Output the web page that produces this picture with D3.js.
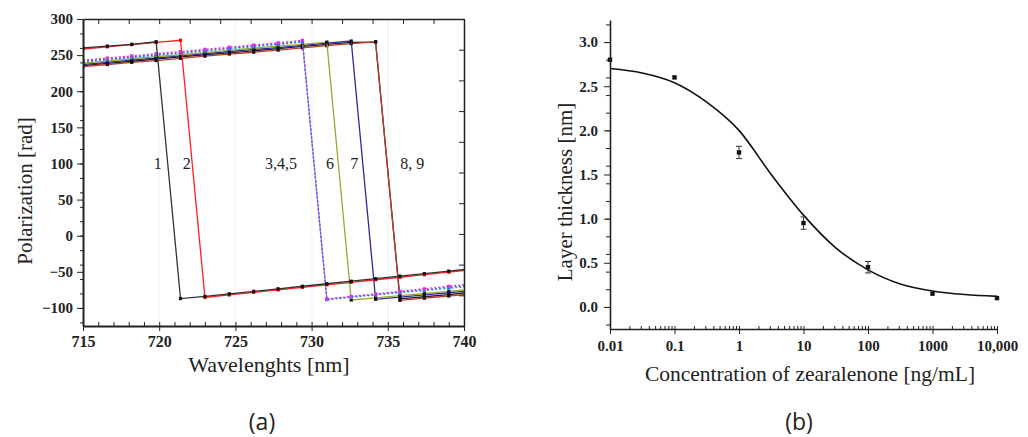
<!DOCTYPE html>
<html>
<head>
<meta charset="utf-8">
<script src="https://cdn.jsdelivr.net/npm/d3@7"></script>
<style>
  body { margin: 0; background: #fff; }
  svg { display: block; }
  text { font-family: "Liberation Serif", "DejaVu Serif", serif; fill: #222; }
  .tick text { font-weight: bold; font-size: 15px; fill: #222; }
  .xa .tick text { font-size: 16px; }
  .domain, .tick line { stroke: #222; }
</style>
</head>
<body>
<div id="chart"></div>
<script>
// ---- panel (a) data ----
var wavelengths = [715, 716.6, 718.2, 719.8, 721.4, 723.0, 724.6, 726.2, 727.8, 729.4, 731.0, 732.6, 734.2, 735.8, 737.4, 739.0, 740.6];
var curve1 = [260, 262.5, 265, 268.5, -87, -84, -80.5, -77, -73.5, -70, -66.5, -63, -59.5, -56, -52.5, -49, -45.5];
var curve2 = [258.5, 261.5, 264.5, 267.5, 270.5, -85.5, -82, -78.5, -75, -71.5, -68, -64.5, -61, -57.5, -54, -50.5, -47];
var curve3 = [243, 246, 249, 252, 255, 258, 261, 264, 267, 270.5, -87.5, -84, -80.5, -77, -73.5, -70, -66.5];
var curve4 = [241.5, 244.5, 247.5, 250.5, 253.5, 256.5, 259.5, 262.5, 265.5, 269, -88, -84.5, -81.5, -78, -75, -71.5, -68.5];
var curve5 = [240.5, 243.5, 246.5, 249.5, 252.5, 255.5, 258.5, 261.5, 264.5, 268, -88.5, -85.5, -82, -79, -76, -73, -70];
var curve6 = [239, 242, 245, 248, 250.5, 253.5, 256.5, 259.5, 262.5, 265, 268, -89, -86, -83, -80, -77, -74];
var curve7 = [237, 240, 243, 246, 249, 252, 255, 258, 260.5, 263.5, 266.5, 269.5, -88, -85, -82, -79, -76];
var curve8 = [234, 237, 240, 242.5, 245.5, 248.5, 251.5, 254, 257, 260, 263, 266, 268.5, -89.5, -86.5, -83.5, -80.5];
var curve9 = [235.5, 238.5, 241.5, 244.5, 247.5, 250.5, 253, 256, 259, 262, 265, 267.5, 268, -87.5, -84.5, -81.5, -78];

var curveNames = ["1", "2", "3,4,5", "6", "7", "8, 9"];
var curveLabelX = [719.9, 721.8, 728.0, 731.2, 732.8, 736.6];
var xTicksA = [715, 720, 725, 730, 735, 740];
var yTicksA = [-100, -50, 0, 50, 100, 150, 200, 250, 300];

// ---- panel (b) data ----
var concentrations = [0.01, 0.1, 1, 10, 100, 1000, 10000];
var thickness = [2.8, 2.6, 1.75, 0.95, 0.45, 0.15, 0.1];
var thicknessErr = [0, 0, 0.07, 0.07, 0.065, 0, 0];
var fitX = [0.01, 0.0316, 0.1, 0.316, 1, 3.16, 10, 31.6, 100, 316, 1000, 3162, 10000];
var fitY = [2.70, 2.65, 2.54, 2.32, 2.0, 1.50, 1.04, 0.67, 0.42, 0.26, 0.18, 0.14, 0.12];
var xTicksB = [0.01, 0.1, 1, 10, 100, 1000, 10000];
var xTickLabelsB = ["0.01", "0.1", "1", "10", "100", "1000", "10,000"];
var yTicksB = [0, 0.5, 1, 1.5, 2, 2.5, 3];

var width = 1028, height = 437;

var svg = d3.select("#chart").append("svg")
  .attr("width", width)
  .attr("height", height);

/* ===== panel (a) ===== */
var xA = d3.scaleLinear().domain([715, 740]).range([83, 464]);
var yA = d3.scaleLinear().domain([-125, 300]).range([326, 19]);

var gA = svg.append("g");

// faint background grid
gA.selectAll(".vgrid").data(xTicksA.slice(1, -1)).enter().append("line")
  .attr("x1", d => xA(d)).attr("x2", d => xA(d))
  .attr("y1", 19).attr("y2", 326)
  .attr("stroke", "#f7f7f7").attr("stroke-width", 2);

gA.append("clipPath").attr("id", "clipA")
  .append("rect").attr("x", 83).attr("y", 19).attr("width", 381).attr("height", 307);

var series = [
  { values: curve9, color: "#222222", dash: null, marker: "#111" },
  { values: curve8, color: "#c0392b", dash: null, marker: "#111" },
  { values: curve7, color: "#2b2b9c", dash: null, marker: "#111" },
  { values: curve6, color: "#a3a332", dash: null, marker: "#111" },
  { values: curve5, color: "#33bcd6", dash: "2,2", marker: "#33bcd6" },
  { values: curve4, color: "#3a55ff", dash: "2,2", marker: "#3a55ff" },
  { values: curve3, color: "#e033e0", dash: "2,2", marker: "#e033e0" },
  { values: curve2, color: "#ff2020", dash: null, marker: "#d01010" },
  { values: curve1, color: "#333333", dash: null, marker: "#111" }
];

var lineA = d3.line()
  .x(d => xA(d[0]))
  .y(d => yA(d[1]));

var plotA = gA.append("g").attr("clip-path", "url(#clipA)");

series.forEach(function (s) {
  var pts = wavelengths.map((w, i) => [w, s.values[i]]);
  plotA.append("path")
    .datum(pts)
    .attr("d", lineA)
    .attr("fill", "none")
    .attr("stroke", s.color)
    .attr("stroke-width", 1.3)
    .attr("stroke-dasharray", s.dash);
  plotA.selectAll(null)
    .data(pts)
    .enter()
    .append("rect")
    .attr("x", d => xA(d[0]) - 1.6)
    .attr("y", d => yA(d[1]) - 1.6)
    .attr("width", 3.2)
    .attr("height", 3.2)
    .attr("fill", s.marker);
});

gA.selectAll(".clabel").data(curveNames).enter().append("text")
  .attr("x", (d, i) => xA(curveLabelX[i]))
  .attr("y", yA(100))
  .attr("dy", "0.35em")
  .attr("text-anchor", "middle")
  .attr("font-size", "16px")
  .attr("fill", "#333")
  .text(d => d);

// axes
gA.append("g")
  .attr("class", "xa")
  .attr("transform", "translate(0,326)")
  .call(d3.axisBottom(xA).tickValues(xTicksA).tickSize(5).tickSizeOuter(0).tickPadding(5))
  .call(g => g.select(".domain").attr("stroke-width", 2));
gA.append("g")
  .attr("transform", "translate(0,326)")
  .call(d3.axisTop(xA).ticks(25).tickSize(4).tickSizeOuter(0).tickFormat(""))
  .call(g => g.select(".domain").remove());
gA.append("g")
  .attr("transform", "translate(83,0)")
  .call(d3.axisLeft(yA).tickValues(yTicksA).tickSize(6).tickSizeOuter(0).tickPadding(4)
    .tickFormat(d => d < 0 ? "\u2212" + Math.abs(d) : d))
  .call(g => g.select(".domain").attr("stroke-width", 2));
gA.append("g")
  .attr("transform", "translate(83,0)")
  .call(d3.axisLeft(yA).ticks(17).tickSize(3).tickSizeOuter(0).tickFormat(""))
  .call(g => g.select(".domain").remove());
gA.append("g")
  .attr("transform", "translate(0,19)")
  .call(d3.axisBottom(xA).ticks(10).tickSize(5).tickSizeOuter(0).tickFormat(""))
  .call(g => g.select(".domain").attr("stroke-width", 1.5));
gA.append("g")
  .attr("transform", "translate(464,0)")
  .call(d3.axisLeft(yA).tickValues(d3.range(11).map(i => -125 + 42.5 * i)).tickSize(5).tickSizeOuter(0).tickFormat(""))
  .call(g => g.select(".domain").attr("stroke-width", 1.5));

gA.append("text")
  .attr("x", 269).attr("y", 372)
  .attr("text-anchor", "middle")
  .attr("font-size", "22px")
  .text("Wavelenghts [nm]");
gA.append("text")
  .attr("transform", "translate(32,191) rotate(-90)")
  .attr("text-anchor", "middle")
  .attr("font-size", "21px")
  .text("Polarization [rad]");

/* ===== panel (b) ===== */
var xB = d3.scaleLog().domain([0.01, 10000]).range([610, 997]);
var yB = d3.scaleLinear().domain([-0.25, 3.25]).range([329, 20]);

var gB = svg.append("g");

gB.append("path")
  .datum(fitX.map((x, i) => [x, fitY[i]]))
  .attr("d", d3.line().x(d => xB(d[0])).y(d => yB(d[1])).curve(d3.curveMonotoneX))
  .attr("fill", "none")
  .attr("stroke", "#111")
  .attr("stroke-width", 1.6);

var pts = concentrations.map((c, i) => ({ c: c, v: thickness[i], e: thicknessErr[i] }));
var errs = gB.selectAll(".err").data(pts.filter(d => d.e > 0)).enter().append("g")
  .attr("stroke", "#333").attr("stroke-width", 1);
errs.append("line")
  .attr("x1", d => xB(d.c)).attr("x2", d => xB(d.c))
  .attr("y1", d => yB(d.v - d.e)).attr("y2", d => yB(d.v + d.e));
errs.append("line")
  .attr("x1", d => xB(d.c) - 3).attr("x2", d => xB(d.c) + 3)
  .attr("y1", d => yB(d.v + d.e)).attr("y2", d => yB(d.v + d.e));
errs.append("line")
  .attr("x1", d => xB(d.c) - 3).attr("x2", d => xB(d.c) + 3)
  .attr("y1", d => yB(d.v - d.e)).attr("y2", d => yB(d.v - d.e));

gB.selectAll(".pt").data(pts).enter().append("rect")
  .attr("x", d => xB(d.c) - 2.2)
  .attr("y", d => yB(d.v) - 2.2)
  .attr("width", 4.4)
  .attr("height", 4.4)
  .attr("fill", "#111");

gB.append("g")
  .attr("transform", "translate(0,329)")
  .call(d3.axisBottom(xB).tickValues(xTicksB).tickSize(5).tickSizeOuter(0).tickPadding(6)
    .tickFormat((d, i) => xTickLabelsB[i]))
  .call(g => g.select(".domain").attr("stroke-width", 1.6));
gB.append("g")
  .attr("transform", "translate(0,329)")
  .call(d3.axisTop(xB).tickValues(xB.ticks()).tickSize(3).tickSizeOuter(0).tickFormat(""))
  .call(g => g.select(".domain").remove());
gB.append("g")
  .attr("transform", "translate(610,0)")
  .call(d3.axisLeft(yB).tickValues(yTicksB).tickSize(6).tickSizeOuter(0).tickPadding(6)
    .tickFormat(d3.format(".1f")))
  .call(g => g.select(".domain").attr("stroke-width", 1.6));
gB.append("g")
  .attr("transform", "translate(610,0)")
  .call(d3.axisLeft(yB).ticks(14).tickSize(4).tickSizeOuter(0).tickFormat(""))
  .call(g => g.select(".domain").remove());

gB.append("text")
  .attr("x", 810).attr("y", 381)
  .attr("text-anchor", "middle")
  .attr("font-size", "21.5px")
  .text("Concentration of zearalenone [ng/mL]");
gB.append("text")
  .attr("transform", "translate(572,192) rotate(-90)")
  .attr("text-anchor", "middle")
  .attr("font-size", "21px")
  .text("Layer thickness [nm]");

// captions
svg.append("text")
  .attr("x", 262).attr("y", 430)
  .attr("text-anchor", "middle")
  .attr("font-size", "23px")
  .style("font-family", "'Open Sans', sans-serif")
  .text("(a)");
svg.append("text")
  .attr("x", 799).attr("y", 430)
  .attr("text-anchor", "middle")
  .attr("font-size", "23px")
  .style("font-family", "'Open Sans', sans-serif")
  .text("(b)");
</script>
</body>
</html>
